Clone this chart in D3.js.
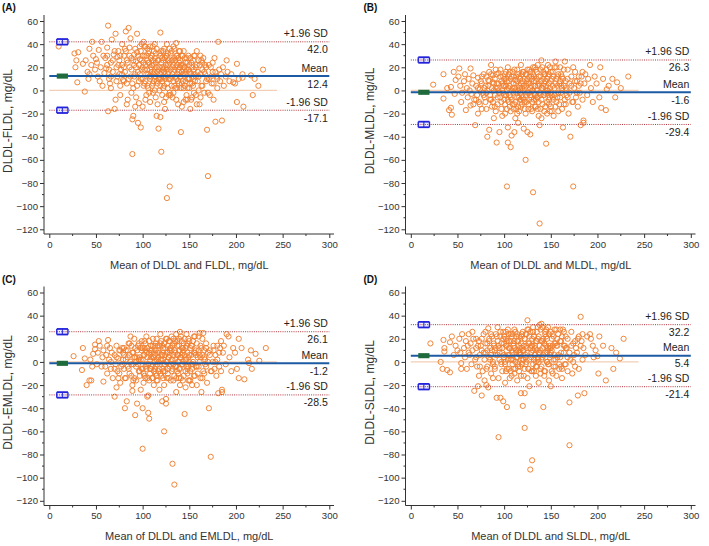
<!DOCTYPE html>
<html><head><meta charset="utf-8">
<script src="https://cdn.jsdelivr.net/npm/d3@7"></script>
<style>
body{margin:0;background:#fff;}
svg{display:block;font-family:"Liberation Sans",Arial,sans-serif;}
</style></head><body>
<svg id="chart" width="709" height="546"></svg>
<script>
const panelLetters = ["(A)", "(B)", "(C)", "(D)"];
const yTitles = ["DLDL-FLDL, mg/dL", "DLDL-MLDL, mg/dL", "DLDL-EMLDL, mg/dL", "DLDL-SLDL, mg/dL"];
const xTitles = ["Mean of DLDL and FLDL, mg/dL", "Mean of DLDL and MLDL, mg/dL", "Mean of DLDL and EMLDL, mg/dL", "Mean of DLDL and SLDL, mg/dL"];
const means = [12.4, -1.6, -1.2, 5.4];
const upperLimits = [42.0, 26.3, 26.1, 32.2];
const lowerLimits = [-17.1, -29.4, -28.5, -21.4];
const meanCI = [[10.2, 14.6], [-3.8, 0.6], [-3.4, 1.0], [3.2, 7.6]];
const upperCI = [[39.6, 44.4], [23.9, 28.7], [23.7, 28.5], [29.8, 34.6]];
const lowerCI = [[-19.5, -14.7], [-31.8, -27.0], [-30.9, -26.1], [-23.8, -19.0]];
const xTicks = [0, 50, 100, 150, 200, 250, 300];
const yTicks = [60, 40, 20, 0, -20, -40, -60, -80, -100, -120];

const dataA = [
[10,38],
[27,32],[29,26],[28,20],[30,7],[31,33],
[36,23],[38,-1],[39,26],[41,16],[43,14],[42,10],[43,36],[46,42],[47,30],[45,22],
[49,18],[50,27],[52,12],[53,35],[55,20],[56,42],[57,4],[58,30],[54,8],[59,15],[51,24],
[60,28],[61,19],[62,37],[63,56],[63,-18],[64,10],[65,6],[66,24],[67,44],[68,16],[69,31],[66,2],[62,22],
[70,-16],[71,49],[72,20],[73,12],[74,34],[75,26],[76,4],[77,18],[78,40],[79,9],[71,-8],[73,29],[76,-4],[78,22],[75,14],
[80,30],[81,16],[82,51],[83,6],[84,24],[85,54],[86,37],[87,12],[88,-2],[89,-25],[89,-55],[88,28],[84,-8],[86,20],[82,34],[87,45],[80,8],[83,-12],
[90,-22],[91,31],[92,14],[93,25],[94,49],[95,-28],[96,8],[97,38],[98,-32],[99,18],[90,2],[91,22],[93,-6],[94,33],[96,-11],[97,27],[98,10],[99,40],[92,-14],[95,16],
[100,20],[101,4],[102,30],[103,-8],[104,14],[105,36],[106,24],[107,-2],[108,10],[109,28],[100,-14],[101,42],[102,18],[103,8],[104,-4],[105,26],[106,32],[107,12],[108,-10],[109,20],[103,38],[106,2],
[110,22],[111,6],[112,34],[113,16],[114,-6],[115,-22],[116,26],[117,-33],[118,10],[119,-23],[119,50],[120,-53],[110,30],[111,-2],[112,14],[113,40],[114,24],[115,8],[116,-12],[117,18],[118,32],[119,4],
[120,16],[121,28],[122,2],[123,36],[124,-16],[125,12],[126,-93],[127,22],[128,-4],[129,-83],[120,24],[121,8],[122,34],[123,-10],[124,20],[125,30],[126,6],[127,14],[128,26],[129,-2],[122,18],[126,40],
[130,10],[131,26],[132,-6],[133,38],[134,18],[135,2],[136,41],[137,14],[138,-12],[139,24],[130,32],[131,4],[132,20],[133,-2],[134,28],[135,12],[136,-8],[137,30],[138,8],[139,16],
[140,20],[141,-36],[142,6],[143,30],[144,-10],[145,14],[146,24],[147,-4],[148,10],[149,18],[140,34],[141,12],[142,-14],[143,22],[144,2],[145,28],[146,8],[148,-8],
[150,16],[151,-16],[152,24],[153,6],[154,12],[155,-2],[156,30],[157,20],[158,-12],[159,8],[150,2],[152,-8],[154,26],[156,14],[158,34],
[160,12],[161,22],[162,-6],[163,4],[164,18],[165,28],[166,-2],[167,14],[168,8],[169,-34],[170,-74],[161,-12],[163,26],[167,22],
[171,10],[172,-4],[173,20],[174,6],[175,16],[176,-8],[177,28],[178,-27],[179,12],[180,2],
[181,42],[182,18],[183,8],[184,14],[185,-26],[186,20],[187,4],[189,12],
[190,26],[191,16],[193,8],[195,14],[197,7],[199,6],
[201,23],[201,-10],[203,10],[207,14],[207,11],[208,-14],
[216,13],[218,-4],[220,10],[224,4],[229,18]
];
const denseA = [
[62,30],[64,18],[66,12],[68,26],[70,34],[72,8],[74,22],[76,30],[78,14],[80,20],[81,36],[83,26],[85,10],[86,30],[88,18],[89,6],[90,26],[91,12],[92,36],[93,20],[94,4],[95,30],[96,22],[97,14],[98,34],[99,26],
[100,10],[100,30],[101,24],[102,6],[102,38],[103,22],[104,30],[105,18],[105,4],[106,14],[107,34],[107,24],[108,18],[108,38],[109,12],[110,16],[110,4],[111,26],[111,38],[112,22],[112,8],[113,28],[113,0],[114,12],[114,32],
[115,20],[115,36],[116,6],[116,16],[117,26],[117,10],[118,20],[118,0],[119,14],[119,30],[120,10],[120,34],[121,20],[121,-4],[122,12],[122,26],[123,16],[123,4],[124,28],[124,10],[125,22],[125,-6],[126,18],[126,30],
[127,2],[127,32],[128,16],[128,10],[129,24],[129,36],[130,18],[130,-4],[131,12],[131,34],[132,26],[132,14],[133,8],[133,22],[134,4],[134,36],[135,20],[135,26],[136,10],[136,30],[137,2],[137,22],[138,18],[138,28],
[139,6],[139,34],[140,12],[140,26],[141,22],[141,2],[142,30],[142,16],[143,8],[143,14],[144,20],[144,34],[145,4],[145,20],[146,16],[146,-8],[147,28],[147,18],[148,24],[148,2],[149,10],[149,30],[150,22],[150,10],
[151,6],[151,28],[152,14],[153,20],[153,-6],[154,4],[155,18],[155,30],[156,8],[157,-4],[157,12],[158,22],[159,16],[160,26],[160,0],[162,14],[162,30],[164,4],[164,24],[166,16],[168,20],[169,10],[170,-2],[171,22],
[173,12],[175,24],[176,6],[178,16],[180,10]
];

const dataB = [
[24,5],[35,14],[35,-7],[39,2],[41,-17],[43,3],[43,-15],[46,16],[48,9],[47,-3],[44,-21],
[51,12],[53,4],[55,-2],[57,8],[59,-17],[58,14],[54,-10],[52,19],
[60,2],[61,-6],[62,10],[64,19],[64,-13],[65,-3],[66,6],[67,13],[68,-8],[69,-30],[63,0],[67,-12],
[70,4],[71,-4],[72,11],[73,-10],[74,1],[75,8],[76,-16],[77,-2],[78,14],[79,-6],[72,-20],[76,6],[79,2],
[80,-10],[81,12],[82,-40],[83,4],[84,-34],[84,16],[85,-4],[86,22],[87,-14],[88,7],[89,-24],[81,-2],[83,9],[86,-8],[88,13],[89,0],
[90,10],[91,-18],[92,-45],[93,2],[94,15],[95,-36],[96,-6],[97,8],[98,-22],[99,4],[90,-4],[91,18],[93,-12],[94,0],[96,12],[97,-16],[98,6],[99,-2],[92,6],
[100,-8],[101,14],[102,-4],[103,-83],[104,-32],[104,-45],[105,8],[106,-14],[107,-49],[108,-39],[109,2],[100,4],[101,-20],[102,10],[103,0],[105,-10],[106,16],[107,-6],[108,12],[109,-12],[104,20],[106,4],
[110,-2],[111,-36],[112,9],[113,-16],[114,18],[115,-28],[116,4],[117,-8],[118,22],[119,-4],[110,12],[111,-12],[112,0],[113,6],[114,-20],[115,14],[116,-6],[117,10],[118,-14],[119,2],[112,-24],
[120,8],[121,-33],[122,-10],[123,-60],[124,14],[125,-36],[126,-2],[127,6],[128,-38],[129,-16],[120,-6],[121,16],[122,2],[123,-20],[124,4],[125,10],[126,-12],[127,18],[128,-4],[129,12],
[130,0],[131,-88],[132,8],[133,-14],[134,18],[135,-6],[136,4],[137,-22],[138,-115],[138,-30],[139,12],[130,-10],[131,14],[132,-2],[133,20],[134,-8],[135,10],[136,-16],[137,6],[139,-4],[140,26],
[140,2],[141,-12],[142,16],[143,-4],[144,8],[145,-46],[146,-20],[147,12],[148,-8],[149,20],[140,-24],[142,4],[143,14],[144,-14],[146,0],[147,-2],[148,6],[149,-18],
[150,8],[151,-4],[152,16],[153,-22],[154,2],[155,25],[156,-10],[157,12],[158,-2],[159,6],[150,-14],[152,-6],[154,20],[156,10],[158,-18],
[160,-6],[161,14],[162,2],[163,-32],[164,-12],[165,25],[166,8],[167,-4],[168,18],[169,-20],[161,4],[163,10],[165,-8],[167,0],
[170,6],[171,-40],[172,12],[173,-10],[174,-83],[175,2],[176,16],[177,-6],[178,8],[179,-14],[174,20],
[180,4],[181,-2],[182,-30],[183,12],[184,-8],[185,-26],[185,-28],[186,6],[187,14],[189,-4],
[190,10],[192,22],[193,2],[195,-10],[197,12],[199,6],
[202,-6],[203,20],[204,-15],[206,10],[209,-17],[210,1],[212,4],[216,10],[219,-6],[221,7],[225,2],[233,12]
];
const denseB = [
[70,-8],[72,2],[74,-12],[76,12],[78,-4],[80,4],[81,-16],[82,0],[84,8],[85,-8],[86,14],[87,2],[88,-10],[89,6],[90,-14],[91,2],[92,14],[93,-6],[94,6],[95,-2],[96,18],[97,-10],[98,0],[99,12],
[100,-4],[100,10],[101,-12],[102,4],[102,16],[103,-16],[103,8],[104,-8],[105,2],[105,14],[106,-4],[107,10],[107,-18],[108,0],[108,-8],[109,16],[110,-16],[110,6],[111,2],[111,18],[112,-10],[113,12],[113,-2],
[114,-6],[114,8],[115,0],[115,-14],[116,12],[116,-18],[117,2],[117,-2],[118,6],[118,-8],[119,14],[119,-12],[120,0],[120,16],[121,-8],[121,4],[122,10],[122,-16],[123,-4],[123,14],[124,-10],[124,8],[125,-2],[125,18],
[126,6],[126,-16],[127,-8],[127,12],[128,2],[128,16],[129,-6],[129,4],[130,10],[130,-18],[131,0],[131,20],[132,-8],[132,12],[133,4],[133,-4],[134,-14],[134,8],[135,16],[135,0],[136,-6],[136,22],[137,12],[137,-10],
[138,4],[138,-2],[139,18],[139,-16],[140,8],[140,-8],[141,2],[141,20],[142,-4],[142,10],[143,-18],[143,6],[144,14],[144,-2],[145,4],[145,18],[146,-10],[146,10],[147,0],[147,22],[148,-12],[148,14],[149,2],[149,-6],
[150,16],[150,-2],[151,10],[151,-18],[152,4],[153,12],[153,-8],[154,-4],[155,6],[155,-14],[156,20],[157,-6],[157,4],[158,14],[159,-12],[160,8],[160,20],[161,-2],[162,-16],[162,12],[164,4],[164,18],[166,-12],[166,2],
[168,10],[168,-6],[170,-2],[172,4],[174,-10],[176,8],[178,-2],[180,12],[182,6],[184,16]
];

const dataC = [
[26,5],[35,-7],[36,12],[38,3],[40,-20],[43,-16],[45,-16],[44,2],[47,7],[49,15],[49,11],[51,-2],[46,-4],
[52,8],[54,14],[56,-4],[57,4],[58,-17],[58,10],[53,18],
[60,-4],[61,6],[62,-10],[63,19],[64,2],[65,12],[66,-6],[67,8],[68,-14],[70,-30],[62,14],[66,0],
[70,6],[71,-2],[72,14],[73,-8],[74,3],[75,10],[76,-18],[77,-4],[78,12],[79,2],[72,-22],[75,-10],[79,8],
[80,-6],[81,-40],[82,10],[83,-34],[84,4],[85,16],[86,-10],[87,22],[88,-2],[89,-25],[80,12],[82,-14],[84,-4],[86,6],[88,14],[89,-20],
[90,8],[91,-14],[92,-46],[93,0],[94,-36],[95,14],[96,-8],[97,4],[98,-24],[99,18],[90,-2],[91,20],[93,-16],[94,10],[96,2],[97,-12],[98,12],[99,-6],[92,4],
[100,-75],[100,-40],[101,6],[102,-12],[103,16],[104,-2],[105,-30],[106,-44],[106,-29],[107,-49],[108,10],[109,-6],[100,2],[101,-18],[102,12],[103,-4],[104,8],[105,-14],[107,18],[108,-10],[109,4],[104,22],
[110,-4],[111,14],[112,-20],[113,6],[114,-10],[115,20],[116,-2],[117,10],[118,-24],[119,2],[110,10],[111,-14],[112,4],[113,-6],[114,16],[115,-16],[116,8],[117,-8],[118,14],[119,24],
[120,6],[121,-34],[122,-8],[123,-60],[124,12],[125,-36],[125,-32],[126,0],[127,8],[128,-14],[129,18],[120,-12],[121,14],[122,2],[123,-20],[124,-2],[126,20],[127,-10],[128,4],[129,10],
[130,-2],[132,-88],[131,10],[133,-16],[134,-106],[134,16],[135,-4],[136,-26],[137,6],[138,-10],[139,14],[140,26],[130,12],[131,-8],[132,2],[133,20],[135,8],[136,-14],[137,18],[138,0],[139,-6],
[140,4],[141,-14],[142,18],[143,-2],[144,10],[145,-45],[146,-22],[147,14],[148,-6],[149,20],[140,-20],[142,6],[143,12],[144,-12],[146,2],[147,-4],[148,8],[149,-16],
[150,6],[151,-8],[152,14],[153,-20],[154,0],[155,22],[156,-12],[157,10],[158,-4],[159,4],[150,-16],[152,-2],[154,18],[156,8],[158,-20],
[160,-4],[161,25],[162,4],[163,-26],[164,-14],[165,25],[166,10],[167,-2],[168,16],[169,-18],[161,6],[163,12],[165,-8],[167,2],
[170,8],[171,-40],[172,10],[173,-8],[173,-82],[175,0],[176,14],[177,-6],[178,6],[179,-12],[181,-27],
[180,2],[182,-4],[183,12],[184,-8],[185,-26],[185,-24],[186,8],[187,14],[189,-2],
[190,24],[192,22],[193,4],[195,-8],[197,12],[199,8],
[201,-6],[203,20],[203,-14],[206,12],[209,-15],[213,2],[214,-1],[216,10],[217,-6],[221,7],[225,1],[232,12]
];
const denseC = [
[70,-6],[72,4],[74,-14],[76,10],[78,-2],[80,6],[81,-14],[82,2],[84,10],[85,-6],[86,16],[87,0],[88,-12],[89,8],[90,-16],[91,4],[92,12],[93,-4],[94,4],[95,-2],[96,16],[97,-8],[98,2],[99,10],
[100,-6],[100,12],[101,-10],[102,6],[102,18],[103,-14],[103,10],[104,-6],[105,4],[105,12],[106,-2],[107,8],[107,-16],[108,2],[108,-6],[109,14],[110,-14],[110,8],[111,4],[111,20],[112,-8],[113,14],[113,0],
[114,-4],[114,10],[115,2],[115,-12],[116,14],[116,-16],[117,4],[117,0],[118,8],[118,-6],[119,16],[119,-10],[120,2],[120,18],[121,-6],[121,6],[122,12],[122,-14],[123,-2],[123,16],[124,-8],[124,6],[125,0],[125,20],
[126,8],[126,-14],[127,-6],[127,14],[128,4],[128,18],[129,-4],[129,6],[130,12],[130,-16],[131,2],[131,22],[132,-6],[132,14],[133,6],[133,-2],[134,-12],[134,10],[135,18],[135,2],[136,-4],[136,24],[137,14],[137,-8],
[138,6],[138,0],[139,20],[139,-14],[140,10],[140,-6],[141,4],[141,22],[142,-2],[142,12],[143,-16],[143,8],[144,16],[144,0],[145,6],[145,20],[146,-8],[146,12],[147,2],[147,24],[148,-10],[148,16],[149,4],[149,-4],
[150,18],[150,0],[151,12],[151,-16],[152,6],[153,14],[153,-6],[154,-2],[155,8],[155,-12],[156,22],[157,-4],[157,6],[158,16],[159,-10],[160,10],[160,22],[161,0],[162,-14],[162,14],[164,6],[164,20],[166,-10],[166,4],
[168,12],[168,-4],[170,0],[172,6],[174,-8],[176,10],[178,0],[180,14],[182,8],[184,18]
];

const dataD = [
[21,16],[32,0],[34,-6],[35,19],[36,12],[36,9],[39,-7],[42,17],[42,-9],[44,22],[46,6],[48,14],
[50,10],[52,20],[54,-6],[54,-1],[55,24],[57,12],[58,4],[59,18],[53,8],
[60,-6],[61,14],[62,24],[63,6],[64,16],[65,-2],[66,10],[67,20],[68,-25],[69,2],[62,8],[66,26],
[70,12],[71,-4],[72,-21],[73,18],[74,6],[75,14],[76,-29],[77,-8],[78,24],[79,2],[70,20],[73,-12],[76,10],[79,-16],
[80,8],[81,-20],[82,16],[83,29],[83,-22],[84,4],[85,12],[86,-10],[87,22],[88,0],[89,14],[80,26],[82,-4],[84,20],[86,6],[88,-14],
[90,10],[91,24],[92,-31],[93,30],[94,-65],[95,2],[96,-31],[97,16],[98,-8],[99,-34],[90,-4],[91,6],[93,18],[94,-14],[95,12],[96,22],[97,-2],[98,8],[99,26],
[100,4],[101,-18],[102,20],[103,-39],[104,28],[105,-6],[106,12],[107,24],[108,-12],[109,8],[100,16],[101,0],[102,-8],[103,14],[104,6],[105,18],[106,-14],[107,2],[108,22],[109,-2],
[110,14],[111,-10],[112,26],[113,4],[114,-16],[115,18],[116,8],[117,-4],[118,-27],[119,22],[110,2],[111,18],[112,-6],[113,10],[114,24],[115,-2],[116,14],[117,6],[118,-12],[119,12],
[120,-38],[121,10],[122,-57],[122,-27],[123,4],[124,24],[125,36],[126,-6],[127,-21],[127,16],[128,-93],[129,8],[120,2],[121,-12],[122,20],[123,-2],[124,12],[125,-14],[126,28],[129,-8],
[130,-85],[130,14],[131,-2],[132,22],[133,6],[134,-12],[135,18],[136,2],[137,-18],[138,32],[139,10],[131,26],[132,-8],[133,12],[134,0],[135,-4],[136,20],[137,8],[139,-10],
[140,33],[141,4],[142,-39],[143,16],[144,-8],[145,22],[146,0],[147,12],[148,-16],[149,6],[140,-4],[141,18],[143,-12],[144,26],[146,8],[147,-2],[149,14],
[150,-21],[151,10],[152,24],[153,-4],[154,16],[155,2],[156,-12],[157,20],[158,6],[159,-6],[150,12],[152,-10],[154,28],[156,14],
[160,4],[161,18],[162,-14],[163,28],[164,8],[165,-2],[166,22],[167,12],[168,-8],[170,-35],[170,-72],[161,-4],[165,14],
[171,2],[172,26],[173,-10],[174,16],[175,6],[176,-4],[177,12],[179,-29],[179,20],
[180,-6],[182,39],[183,18],[184,2],[185,12],[186,-27],[187,6],[189,22],
[192,24],[193,20],[195,14],[196,4],[198,10],[200,5],
[201,-10],[202,22],[206,14],[209,-16],[215,12],[217,-6],[220,8],[224,3],[228,20]
];
const denseD = [
[70,4],[72,14],[74,-4],[76,20],[78,8],[80,16],[81,-6],[82,10],[84,18],[85,2],[86,24],[87,10],[88,-2],[89,16],[90,-6],[91,12],[92,22],[93,6],[94,14],[95,8],[96,26],[97,0],[98,12],[99,20],
[100,6],[100,22],[101,-2],[102,14],[102,26],[103,-6],[103,18],[104,2],[105,12],[105,24],[106,6],[107,18],[107,-8],[108,10],[108,2],[109,24],[110,-6],[110,16],[111,12],[111,28],[112,0],[113,22],[113,8],
[114,4],[114,18],[115,10],[115,-4],[116,22],[116,-8],[117,12],[117,8],[118,16],[118,2],[119,24],[119,-2],[120,10],[120,26],[121,2],[121,14],[122,20],[122,-6],[123,6],[123,24],[124,0],[124,14],[125,8],[125,28],
[126,16],[126,-6],[127,2],[127,22],[128,12],[128,26],[129,4],[129,14],[130,20],[130,-8],[131,10],[131,30],[132,2],[132,22],[133,14],[133,6],[134,-4],[134,18],[135,26],[135,10],[136,4],[136,30],[137,22],[137,0],
[138,14],[138,8],[139,28],[139,-6],[140,18],[140,2],[141,12],[141,30],[142,6],[142,20],[143,-8],[143,16],[144,24],[144,8],[145,14],[145,28],[146,0],[146,20],[147,10],[147,30],[148,-2],[148,24],[149,12],[149,4],
[150,26],[150,8],[151,20],[151,-8],[152,14],[153,22],[153,2],[154,6],[155,16],[155,-4],[156,28],[157,4],[157,14],[158,24],[159,-2],[160,18],[160,28],[161,8],[162,-6],[162,22],[164,14],[164,26],[166,-2],[166,12],
[168,20],[168,4],[170,8],[172,14],[174,0],[176,18],[178,8],[180,22],[182,14],[184,24]
];

const datasets = [dataA.concat(denseA), dataB.concat(denseB), dataC.concat(denseC), dataD.concat(denseD)];
const offsets = [[0,0],[361.5,0],[0,271.5],[361.5,271.5]];

const svg = d3.select("#chart");
const axisColor = "#333";
const textColor = "#333";

datasets.forEach((data, i) => {
  const [ox, oy] = offsets[i];
  const x = d3.scaleLinear().domain([0, 300]).range([ox + 49.3, ox + 329.3]);
  const y = d3.scaleLinear().domain([60, -120]).range([oy + 21, oy + 229.3]);
  const g = svg.append("g");
  const axX = ox + 44, axY = oy + 234;

  g.append("line").attr("x1", axX).attr("x2", axX).attr("y1", oy + 15).attr("y2", axY)
    .attr("stroke", axisColor).attr("stroke-width", 1);
  g.append("line").attr("x1", axX).attr("x2", ox + 334).attr("y1", axY).attr("y2", axY)
    .attr("stroke", axisColor).attr("stroke-width", 1);

  const yAxis = d3.axisLeft(y).tickValues(yTicks).tickSize(4).tickPadding(2);
  const gy = g.append("g").attr("transform", `translate(${axX},0)`).call(yAxis);
  gy.select(".domain").remove();
  gy.selectAll("line").attr("stroke", axisColor);
  gy.selectAll("text").attr("font-size", 9.6).attr("fill", textColor).attr("font-family", "Liberation Sans, Arial, sans-serif");
  g.selectAll(".my").data(d3.range(-110, 61, 20)).join("line")
    .attr("x1", axX - 2).attr("x2", axX).attr("y1", d => y(d)).attr("y2", d => y(d))
    .attr("stroke", axisColor);

  const xAxis = d3.axisBottom(x).tickValues(xTicks).tickSize(4).tickPadding(3);
  const gx = g.append("g").attr("transform", `translate(0,${axY})`).call(xAxis);
  gx.select(".domain").remove();
  gx.selectAll("line").attr("stroke", axisColor);
  gx.selectAll("text").attr("font-size", 9.6).attr("fill", textColor).attr("font-family", "Liberation Sans, Arial, sans-serif");
  g.selectAll(".mx").data(d3.range(25, 300, 50)).join("line")
    .attr("x1", d => x(d)).attr("x2", d => x(d)).attr("y1", axY).attr("y2", axY + 2)
    .attr("stroke", axisColor);

  g.append("text").attr("x", (x(0) + x(300)) / 2).attr("y", oy + 268.5)
    .attr("text-anchor", "middle").attr("font-size", 11).attr("fill", textColor).text(xTitles[i]);
  g.append("text").attr("transform", `translate(${ox + 12},${oy + 121}) rotate(-90)`)
    .attr("text-anchor", "middle").attr("font-size", 12).attr("fill", textColor).text(yTitles[i]);
  g.append("text").attr("x", ox + 2).attr("y", oy + 11).attr("font-size", 10).attr("font-weight", "bold")
    .attr("fill", "#111").text(panelLetters[i]);

  g.append("line").attr("x1", x(0)).attr("x2", x(244)).attr("y1", y(0)).attr("y2", y(0))
    .attr("stroke", "#f2cfb5").attr("stroke-width", 1.2);

  g.selectAll(".pt").data(data).join("circle")
    .attr("cx", d => x(d[0])).attr("cy", d => y(d[1])).attr("r", 2.6)
    .attr("fill", "none").attr("stroke", "#f07f30").attr("stroke-width", 0.95);

  g.append("line").attr("x1", x(0)).attr("x2", x(300)).attr("y1", y(means[i])).attr("y2", y(means[i]))
    .attr("stroke", "#1c5aa3").attr("stroke-width", 2);
  [upperLimits[i], lowerLimits[i]].forEach(v => {
    g.append("line").attr("x1", x(0)).attr("x2", x(300)).attr("y1", y(v)).attr("y2", y(v))
      .attr("stroke", "#b3343c").attr("stroke-width", 1).attr("stroke-dasharray", "1,1.2");
  });

  [upperCI[i], lowerCI[i]].forEach(ci => {
    const x0 = x(8), x1 = x(20), yt = y(ci[1]), yb = y(ci[0]);
    g.append("rect").attr("x", x0).attr("width", x1 - x0).attr("y", yt).attr("height", yb - yt)
      .attr("fill", "#ececfc");
    g.append("line").attr("x1", x0).attr("x2", x1).attr("y1", y((ci[0] + ci[1]) / 2)).attr("y2", y((ci[0] + ci[1]) / 2))
      .attr("stroke", "#b3343c").attr("stroke-width", 1).attr("stroke-dasharray", "1,1.2");
    [yt, yb].forEach(yy => {
      g.append("line").attr("x1", x0).attr("x2", x1).attr("y1", yy).attr("y2", yy)
        .attr("stroke", "#2323dc").attr("stroke-width", 1.8);
    });
    [x0, x1].forEach(xx => {
      g.append("line").attr("x1", xx).attr("x2", xx).attr("y1", yt).attr("y2", yb)
        .attr("stroke", "#2323dc").attr("stroke-width", 1.4);
    });
    g.append("line").attr("x1", (x0 + x1) / 2).attr("x2", (x0 + x1) / 2).attr("y1", yt).attr("y2", yb)
      .attr("stroke", "#2323dc").attr("stroke-width", 1);
  });
  g.append("rect").attr("x", x(8)).attr("width", x(20) - x(8))
    .attr("y", y(meanCI[i][1])).attr("height", y(meanCI[i][0]) - y(meanCI[i][1]))
    .attr("fill", "#1f6b3c");

  const lab = [["+1.96 SD", upperLimits[i]], ["Mean", means[i]], ["-1.96 SD", lowerLimits[i]]];
  lab.forEach(([name, v]) => {
    g.append("text").attr("x", x(300) - 1.5).attr("y", y(v) - 4.5).attr("text-anchor", "end")
      .attr("font-size", 10.5).attr("fill", "#222").text(name);
    g.append("text").attr("x", x(300) - 1.5).attr("y", y(v) + 11.5).attr("text-anchor", "end")
      .attr("font-size", 10.5).attr("fill", "#222").text(v.toFixed(1));
  });
});
</script>
</body></html>
